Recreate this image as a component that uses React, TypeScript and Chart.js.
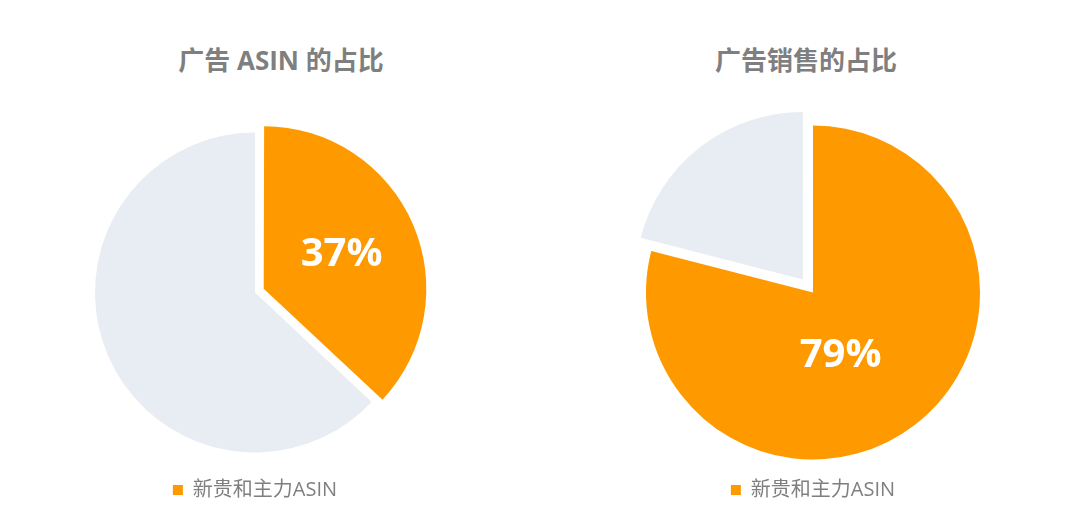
import { useEffect, useRef } from "react"
import { Chart, registerables, ChartConfiguration, Plugin } from "chart.js"

Chart.register(...registerables)

// data
const categories = ["新贵和主力ASIN", "其他ASIN"]
const asinShare = [37, 63]
const salesShare = [79, 21]
const chartTitles = ["广告 ASIN 的占比", "广告销售的占比"]

const ORANGE = "#FF9900"
const GREY = "#E8EDF3"
const FONT = "'Open Sans', 'Noto Sans CJK SC', sans-serif"

interface PieProps {
  title: string
  values: number[]
  left: number
  width: number
  titleX: number
  radius: number
  offsets: number[]
  labelFactor: number
  labelTurn: number
}

// draws the "37%" style label on the orange slice only
const sliceLabel: Plugin<"pie"> = {
  id: "sliceLabel",
  afterDatasetsDraw(chart, _args, opts: any) {
    const meta = chart.getDatasetMeta(0)
    const values = chart.data.datasets[0].data as number[]
    const ctx = chart.ctx
    const arc: any = meta.data[0]
    if (!arc) return
    const { x, y, startAngle, endAngle, outerRadius } = arc.getProps(
      ["x", "y", "startAngle", "endAngle", "outerRadius"],
      true
    )
    // label sits near the middle of the slice, nudged by a few degrees
    const mid = (startAngle + endAngle) / 2 + ((opts.turn ?? 0) * Math.PI) / 180
    const r = outerRadius * (opts.factor ?? 0.5)
    ctx.save()
    ctx.fillStyle = "#fff"
    ctx.font = `bold 40px ${FONT}`
    ctx.textAlign = "center"
    ctx.textBaseline = "middle"
    ctx.fillText(`${values[0]}%`, x + Math.cos(mid) * r, y + Math.sin(mid) * r)
    ctx.restore()
  },
}

function PieCard({ title, values, left, width, titleX, radius, offsets, labelFactor, labelTurn }: PieProps) {
  const chartRef = useRef<HTMLCanvasElement>(null)
  const chartInstance = useRef<Chart | null>(null)

  useEffect(() => {
    if (!chartRef.current) return
    if (chartInstance.current) chartInstance.current.destroy()

    const config: ChartConfiguration<"pie"> = {
      type: "pie",
      data: {
        labels: categories,
        datasets: [
          {
            data: values,
            backgroundColor: [ORANGE, GREY],
            borderWidth: 0,
            offset: offsets,
            hoverOffset: 0,
          },
        ],
      },
      options: {
        responsive: true,
        maintainAspectRatio: false,
        animation: false,
        radius,
        layout: { padding: { top: 115, bottom: 21 } },
        plugins: {
          legend: {
            position: "bottom",
            labels: {
              filter: (item) => item.index === 0,
              boxWidth: 10,
              boxHeight: 10,
              color: "#7F7F7F",
              font: { family: FONT, size: 20 },
              padding: 10,
            },
          },
          tooltip: { enabled: false },
          // @ts-ignore
          sliceLabel: { factor: labelFactor, turn: labelTurn },
        },
      },
      plugins: [sliceLabel],
    }

    chartInstance.current = new Chart(chartRef.current, config)

    return () => {
      if (chartInstance.current) {
        chartInstance.current.destroy()
        chartInstance.current = null
      }
    }
  }, [values, radius, labelFactor, labelTurn])

  return (
    <>
      <div
        style={{
          position: "absolute",
          left: titleX - 200,
          top: 44,
          width: 400,
          textAlign: "center",
          fontFamily: FONT,
          fontSize: 26,
          fontWeight: "bold",
          lineHeight: "32px",
          color: "#7F7F7F",
        }}
      >
        {title}
      </div>
      <div style={{ position: "absolute", left, top: 0, width, height: 531 }}>
        <canvas ref={chartRef} />
      </div>
    </>
  )
}

export default function App() {
  return (
    <div
      style={{
        position: "fixed",
        left: 0,
        top: 0,
        width: 1080,
        height: 531,
        background: "#fff",
        overflow: "hidden",
      }}
    >
      <PieCard
        title={chartTitles[0]}
        values={asinShare}
        left={0}
        width={510}
        titleX={281}
        radius={160}
        offsets={[38, 0]}
        labelFactor={0.59}
        labelTurn={0}
      />
      <PieCard
        title={chartTitles[1]}
        values={salesShare}
        left={558}
        width={510}
        titleX={806}
        radius={167}
        offsets={[0, 66]}
        labelFactor={0.41}
        labelTurn={14}
      />
    </div>
  )
}
